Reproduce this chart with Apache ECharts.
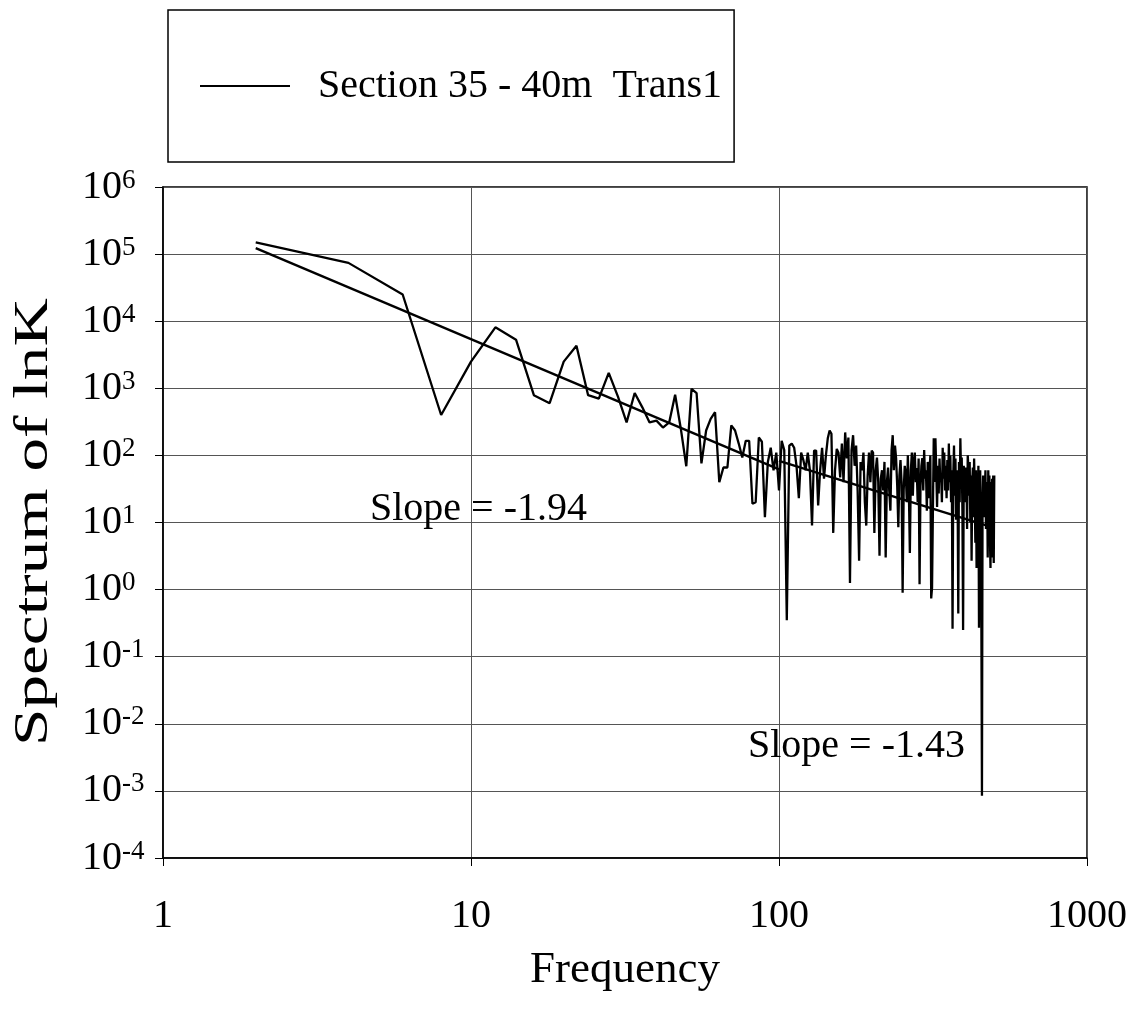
<!DOCTYPE html>
<html>
<head>
<meta charset="utf-8">
<script src="https://cdn.jsdelivr.net/npm/echarts@6/dist/echarts.min.js"></script>
<style>
  html, body { margin: 0; padding: 0; background: #fff; }
  #main { width: 1133px; height: 1014px; }
</style>
</head>
<body>
<div id="main"></div>
<script>
var myChart = echarts.init(document.getElementById('main'));

var SERIF = '"Liberation Serif", "Times New Roman", serif';

var seriesName = 'Section 35 - 40m  Trans1';

// frequency of each spectrum point
var frequency = [
  2, 4, 6, 8, 10, 12, 14, 16, 18, 20,
  22, 24, 26, 28, 30, 32, 34, 36, 38, 40,
  42, 44, 46, 48, 50, 52, 54, 56, 58, 60,
  62, 64, 66, 68, 70, 72, 74, 76, 78, 80,
  82, 84, 86, 88, 90, 92, 94, 96, 98, 100,
  102, 104, 106, 108, 110, 112, 114, 116, 118, 120,
  122, 124, 126, 128, 130, 132, 134, 136, 138, 140,
  142, 144, 146, 148, 150, 152, 154, 156, 158, 160,
  162, 164, 166, 168, 170, 172, 174, 176, 178, 180,
  182, 184, 186, 188, 190, 192, 194, 196, 198, 200,
  202, 204, 206, 208, 210, 212, 214, 216, 218, 220,
  222, 224, 226, 228, 230, 232, 234, 236, 238, 240,
  242, 244, 246, 248, 250, 252, 254, 256, 258, 260,
  262, 264, 266, 268, 270, 272, 274, 276, 278, 280,
  282, 284, 286, 288, 290, 292, 294, 296, 298, 300,
  302, 304, 306, 308, 310, 312, 314, 316, 318, 320,
  322, 324, 326, 328, 330, 332, 334, 336, 338, 340,
  342, 344, 346, 348, 350, 352, 354, 356, 358, 360,
  362, 364, 366, 368, 370, 372, 374, 376, 378, 380,
  382, 384, 386, 388, 390, 392, 394, 396, 398, 400,
  402, 404, 406, 408, 410, 412, 414, 416, 418, 420,
  422, 424, 426, 428, 430, 432, 434, 436, 438, 440,
  442, 444, 446, 448, 450, 452, 454, 456, 458, 460,
  462, 464, 466, 468, 470, 472, 474, 476, 478, 480,
  482, 484, 486, 488, 490, 492, 494, 496, 498, 500
];

// spectrum of lnK
var spectrum = [
  150000, 74000, 25000, 400, 2500, 8100, 5300, 790, 600, 2500,
  4300, 790, 700, 1700, 750, 310, 850, 520, 310, 330,
  260, 310, 800, 250, 69, 980, 850, 76, 235, 350,
  440, 40, 66, 66, 280, 235, 150, 93, 165, 165,
  19, 20, 185, 160, 12, 80, 130, 60, 110, 30,
  165, 120, 0.35, 140, 150, 130, 70, 23, 110, 85,
  60, 110, 60, 9, 118, 118, 18, 60, 130, 45,
  100, 180, 235, 210, 7, 60, 125, 110, 47, 150,
  40, 220, 90, 185, 1.26, 120, 200, 70, 140, 30,
  2.7, 80, 60, 110, 20, 9, 50, 110, 40, 118,
  110, 7, 60, 93, 40, 3.2, 45, 60, 30, 80,
  3, 40, 66, 30, 15, 120, 200, 60, 140, 90,
  35, 8.5, 50, 85, 40, 0.9, 30, 70, 54, 20,
  100, 30, 3.5, 60, 110, 25, 80, 110, 40, 65,
  20, 90, 1.2, 35, 70, 91, 30, 120, 45, 60,
  15, 80, 23, 50, 100, 0.74, 1.07, 15, 180, 40,
  180, 60, 17, 70, 27, 90, 40, 54, 20, 130,
  45, 110, 30, 70, 23, 85, 30, 150, 40, 100,
  20, 60, 0.26, 50, 140, 25, 90, 11, 60, 35,
  0.44, 80, 20, 180, 50, 93, 15, 0.25, 70, 30,
  66, 20, 66, 8, 100, 66, 25, 80, 10, 50,
  2.7, 40, 66, 12, 90, 30, 5, 60, 2.1, 40,
  15, 70, 0.27, 30, 60, 10, 0.3, 0.00085, 20, 50,
  12, 43, 25, 60, 8, 15, 40, 3, 60, 20,
  50, 6, 2.1, 40, 12, 45, 3, 50, 2.5, 50
];

// power-law fits (end points)
var fitLowFreq = [2, 100];
var fitLowValue = [123000, 62];
var fitHighFreq = [100, 500];
var fitHighValue = [83, 8.3];

var slopeLabels = ['Slope = -1.94', 'Slope = -1.43'];

var xRange = [1, 1000];
var yRange = [1e-4, 1e6];

function pairs(xs, ys) {
  var out = [];
  for (var i = 0; i < xs.length; i++) {
    out.push([xs[i], ys[i]]);
  }
  return out;
}

var gridLine = { show: true, lineStyle: { color: '#555', width: 1 } };

var option = {
  backgroundColor: '#fff',
  animation: false,
  grid: {
    left: 163, right: 46, top: 187, bottom: 156,
    show: true, borderColor: '#000', borderWidth: 1.5
  },
  legend: {
    data: [seriesName],
    left: 168, top: 10,
    icon: 'rect',
    itemWidth: 90, itemHeight: 2,
    padding: [56, 12, 56, 32],
    borderColor: '#000', borderWidth: 1.5, borderRadius: 0,
    textStyle: { fontFamily: SERIF, fontSize: 40, color: '#000', padding: [0, 0, 0, 23] }
  },
  xAxis: {
    type: 'log', logBase: 10,
    min: xRange[0], max: xRange[1], interval: 1,
    name: 'Frequency', nameLocation: 'middle', nameGap: 90,
    nameTextStyle: { fontFamily: SERIF, fontSize: 45, color: '#000' },
    axisLine: { lineStyle: { color: '#000', width: 1.5 } },
    axisTick: { show: true, inside: false, length: 8, lineStyle: { color: '#000' } },
    splitLine: gridLine,
    axisLabel: {
      margin: 38, fontFamily: SERIF, fontSize: 40, color: '#000',
      formatter: function (v) { return String(Math.round(v)); }
    }
  },
  yAxis: {
    type: 'log', logBase: 10,
    min: yRange[0], max: yRange[1], interval: 1,
    axisLine: { lineStyle: { color: '#000', width: 1.5 } },
    axisTick: { show: true, inside: false, length: 8, lineStyle: { color: '#000' } },
    splitLine: gridLine,
    axisLabel: {
      align: 'left', margin: 81,
      formatter: function (v) {
        var e = Math.round(Math.log(v) / Math.LN10);
        return '{b|10}{s|' + e + '}';
      },
      rich: {
        b: { fontFamily: SERIF, fontSize: 40, color: '#000' },
        s: { fontFamily: SERIF, fontSize: 27, color: '#000', verticalAlign: 'top' }
      }
    }
  },
  series: [
    {
      name: seriesName,
      type: 'line',
      data: pairs(frequency, spectrum),
      symbol: 'none',
      lineStyle: { color: '#000', width: 2.3 },
      itemStyle: { color: '#000' }
    },
    {
      name: 'fit low',
      type: 'line',
      data: pairs(fitLowFreq, fitLowValue),
      symbol: 'none', silent: true,
      lineStyle: { color: '#000', width: 2.4 }
    },
    {
      name: 'fit high',
      type: 'line',
      data: pairs(fitHighFreq, fitHighValue),
      symbol: 'none', silent: true,
      lineStyle: { color: '#000', width: 2.4 }
    }
  ],
  graphic: [
    {
      // y axis title, drawn stretched like the scanned original
      type: 'text', x: 34, y: 522, rotation: Math.PI / 2, scaleX: 1.4,
      style: {
        text: 'Spectrum of lnK', font: '48px ' + SERIF, fill: '#000',
        align: 'center', verticalAlign: 'middle'
      }
    },
    {
      type: 'text', left: 370, top: 489, z: 100,
      style: { text: slopeLabels[0], font: '40px ' + SERIF, fill: '#000' }
    },
    {
      type: 'text', left: 748, top: 726, z: 100,
      style: { text: slopeLabels[1], font: '40px ' + SERIF, fill: '#000' }
    }
  ]
};

myChart.setOption(option);
</script>
</body>
</html>
